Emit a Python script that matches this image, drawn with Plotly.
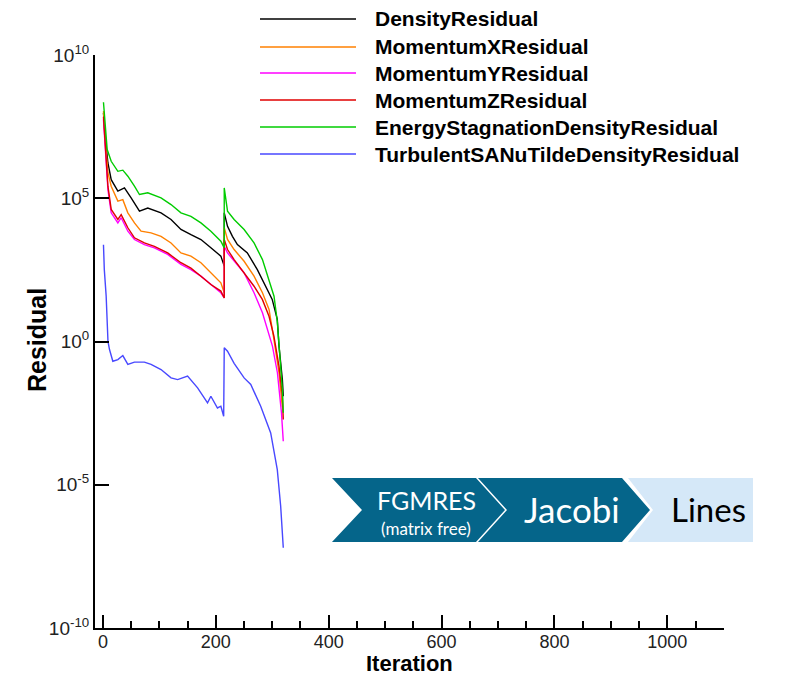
import plotly.graph_objects as go

# ---------------- data ----------------
series_names = [
    "DensityResidual",
    "MomentumXResidual",
    "MomentumYResidual",
    "MomentumZResidual",
    "EnergyStagnationDensityResidual",
    "TurbulentSANuTildeDensityResidual",
]
series_colors = ["#000000", "#ff8000", "#ff00ff", "#e00000", "#00cc00", "#4848ff"]

density_iter = [1, 4, 8.9, 14.7, 26.5, 38.2, 50, 64.8, 79.5, 103, 120.7, 138.3, 156, 173.7, 191.3, 209, 215, 215,
                220.8, 229.5, 238.3, 256, 273.6, 288.3, 300, 309, 312, 318, 319.6]
density_log = [7.98, 7.16, 6.23, 5.65, 5.25, 5.36, 5.01, 4.55, 4.66, 4.49, 4.26, 3.91, 3.73, 3.56, 3.27, 2.98, 2.63, 4.49,
               4.02, 3.67, 3.38, 3.09, 2.51, 1.93, 1.47, 0.77, -0.16, -1.33, -1.91]

momx_iter = [1, 4, 8.9, 14.7, 26.5, 35.3, 44.2, 55.9, 67.6, 85.3, 103, 120.7, 138.3, 156, 173.7, 191.3, 209, 215, 215,
             220.8, 232.5, 250.2, 267.8, 282.7, 294.4, 303, 312, 318]
momx_log = [8.04, 7.04, 5.89, 5.42, 4.90, 4.95, 4.49, 4.14, 3.85, 3.79, 3.67, 3.44, 3.09, 2.98, 2.75, 2.40, 2.05, 1.70, 3.97,
            3.56, 3.21, 2.80, 2.28, 1.70, 1.12, 0.07, -1.09, -2.30]

momy_iter = [1, 4, 8.9, 14.7, 26.5, 32.4, 44.2, 55.9, 73.5, 91.2, 114.8, 138.3, 156, 173.7, 191.3, 209, 215, 215,
             220.8, 232.5, 250, 267.8, 282.7, 300.4, 309.2, 316.4, 319.6]
momy_log = [7.75, 6.82, 5.30, 4.49, 4.14, 4.32, 3.85, 3.56, 3.38, 3.27, 3.04, 2.69, 2.51, 2.28, 1.99, 1.70, 1.52, 3.32,
            3.09, 2.80, 2.40, 1.70, 1.00, -0.16, -1.09, -2.49, -3.48]

momz_iter = [1, 4, 8.9, 14.7, 26.5, 32.4, 44.2, 55.9, 73.5, 91.2, 114.8, 138.3, 156, 173.7, 191.3, 209, 215, 215,
             220.8, 232.5, 250.2, 267.8, 282.5, 294.3, 303, 312, 318, 319.6]
momz_log = [7.85, 6.94, 5.42, 4.61, 4.26, 4.43, 3.97, 3.62, 3.44, 3.32, 3.09, 2.75, 2.56, 2.28, 1.99, 1.76, 1.52, 3.56,
            3.21, 2.86, 2.40, 1.93, 1.47, 0.88, 0.19, -0.86, -1.91, -2.72]

energy_iter = [1, 4, 7.6, 14.7, 26.5, 35.3, 44.2, 55.9, 64.8, 79.5, 103, 120.7, 138.3, 156, 173.7, 191.3, 209, 215, 215,
               220.8, 232.5, 250.2, 267.8, 282.7, 294.4, 303.2, 309, 315, 318, 319.6]
energy_log = [8.35, 7.63, 6.70, 6.29, 5.94, 5.98, 5.77, 5.42, 5.13, 5.19, 5.01, 4.78, 4.49, 4.37, 4.14, 3.85, 3.50, 3.27,
              5.36, 4.55, 4.26, 3.91, 3.44, 2.86, 2.16, 1.58, 0.70, -0.74, -1.67, -2.49]

turb_iter = [1, 2.5, 5.8, 7.6, 9, 11.7, 17.6, 26.5, 35.3, 44.2, 55.9, 73.5, 85.3, 103, 120.7, 132.5, 150, 167.8, 185.4,
             191.3, 203, 209, 214, 215, 220.8, 232.5, 250.2, 262, 279.6, 297.3, 309, 315, 319.6]
turb_log = [3.38, 2.51, 1.58, 0.53, 0.0, -0.28, -0.69, -0.63, -0.49, -0.80, -0.72, -0.72, -0.80, -0.98, -1.27, -1.33,
            -1.21, -1.62, -2.14, -1.91, -2.32, -2.26, -2.61, -0.22, -0.34, -0.76, -1.27, -1.50, -2.26, -3.19, -4.47,
            -5.75, -7.2]

x_tick_vals = [0, 200, 400, 600, 800, 1000]
y_tick_vals = [1e-10, 1e-5, 1, 1e5, 1e10]
y_tick_text = ["10<sup>-10</sup>", "10<sup>-5</sup>", "10<sup>0</sup>", "10<sup>5</sup>", "10<sup>10</sup>"]

stage_labels = ["FGMRES", "(matrix free)", "Jacobi", "Lines"]

# ---------------- figure ----------------
all_iters = [density_iter, momx_iter, momy_iter, momz_iter, energy_iter, turb_iter]
all_logs = [density_log, momx_log, momy_log, momz_log, energy_log, turb_log]

fig = go.Figure()
for name, color, xs, ls in zip(series_names, series_colors, all_iters, all_logs):
    fig.add_trace(go.Scatter(x=xs, y=[10 ** v for v in ls], mode="lines", name=name,
                             line=dict(color=color, width=1.4)))

# pixel layout helpers (plot area 95..724 x 55..628)
L, R, T, B = 95, 724, 55, 628


def px(x):
    return (x - L) / (R - L)


def py(y):
    return (B - y) / (B - T)


shapes = []
annotations = []

# legend (manual, long line samples)
legend_rows = [19, 47, 73, 100, 127, 154]
for name, color, row in zip(series_names, series_colors, legend_rows):
    shapes.append(dict(type="line", xref="paper", yref="paper", x0=px(260), x1=px(356), y0=py(row), y1=py(row),
                       line=dict(color=color, width=1.5)))
    annotations.append(dict(xref="paper", yref="paper", x=px(373), y=py(row), text=name, showarrow=False,
                            xanchor="left", yanchor="middle",
                            font=dict(family="Liberation Sans", size=21, color="#000", weight="bold")))


def path(points):
    s = "M " + " L ".join(f"{px(a):.5f},{py(b):.5f}" for a, b in points) + " Z"
    return s


dark = "#05658a"
light = "#d5e8f8"
yt, yb, ym = 478, 542, 510
chev1 = [(332, yt), (476, yt), (505, ym), (476, yb), (332, yb), (362, ym)]
chev2 = [(478, yt), (622, yt), (650, ym), (622, yb), (478, yb), (507, ym)]
chev3 = [(628, yt), (753, yt), (753, yb), (628, yb), (653, ym)]
shapes.append(dict(type="path", xref="paper", yref="paper", path=path(chev3), fillcolor=light,
                   line=dict(width=0), layer="above"))
shapes.append(dict(type="path", xref="paper", yref="paper", path=path(chev2), fillcolor=dark,
                   line=dict(width=0), layer="above"))
shapes.append(dict(type="path", xref="paper", yref="paper", path=path(chev1), fillcolor=dark,
                   line=dict(width=0), layer="above"))

annotations.append(dict(xref="paper", yref="paper", x=px(426), y=py(500), text=stage_labels[0], showarrow=False,
                        xanchor="center", yanchor="middle", font=dict(family="Lato", size=25, color="white")))
annotations.append(dict(xref="paper", yref="paper", x=px(426), y=py(528), text=stage_labels[1], showarrow=False,
                        xanchor="center", yanchor="middle", font=dict(family="Lato", size=17, color="white")))
annotations.append(dict(xref="paper", yref="paper", x=px(572), y=py(509), text=stage_labels[2], showarrow=False,
                        xanchor="center", yanchor="middle", font=dict(family="Lato", size=35, color="white")))
annotations.append(dict(xref="paper", yref="paper", x=px(708), y=py(509), text=stage_labels[3], showarrow=False,
                        xanchor="center", yanchor="middle", font=dict(family="Lato", size=33, color="black")))

# axis titles
annotations.append(dict(xref="paper", yref="paper", x=px(410), y=py(677), text="Iteration", showarrow=False,
                        xanchor="center", yanchor="bottom", borderpad=0,
                        font=dict(family="Liberation Sans", size=22, color="#000", weight="bold")))
annotations.append(dict(xref="paper", yref="paper", x=px(37), y=py(340), text="Residual", showarrow=False,
                        xanchor="center", yanchor="middle", textangle=-90,
                        font=dict(family="Liberation Sans", size=25, color="#000", weight="bold")))

fig.update_layout(
    width=795, height=678,
    margin=dict(l=L, r=795 - R, t=T, b=678 - B),
    paper_bgcolor="white", plot_bgcolor="white",
    showlegend=False,
    shapes=shapes, annotations=annotations,
    xaxis=dict(range=[-14, 1100.5], showgrid=False, zeroline=False, showline=True, linecolor="black", linewidth=2,
               ticks="inside", ticklen=13, tickwidth=2, tickcolor="black",
               tickmode="array", tickvals=x_tick_vals, ticklabelstandoff=-4,
               tickfont=dict(family="Liberation Sans", size=18, color="#222"),
               minor=dict(ticks="inside", ticklen=7, tickwidth=1.5, tickcolor="black", tick0=0, dtick=50,
                          showgrid=False)),
    yaxis=dict(type="log", range=[-10, 10], showgrid=False, zeroline=False, showline=True, linecolor="black",
               linewidth=2, ticks="inside", ticklen=14, tickwidth=2, tickcolor="black",
               tickmode="array", tickvals=y_tick_vals, ticktext=y_tick_text,
               tickfont=dict(family="Liberation Sans", size=19, color="#222")),
)

fig.write_html("out.html")
